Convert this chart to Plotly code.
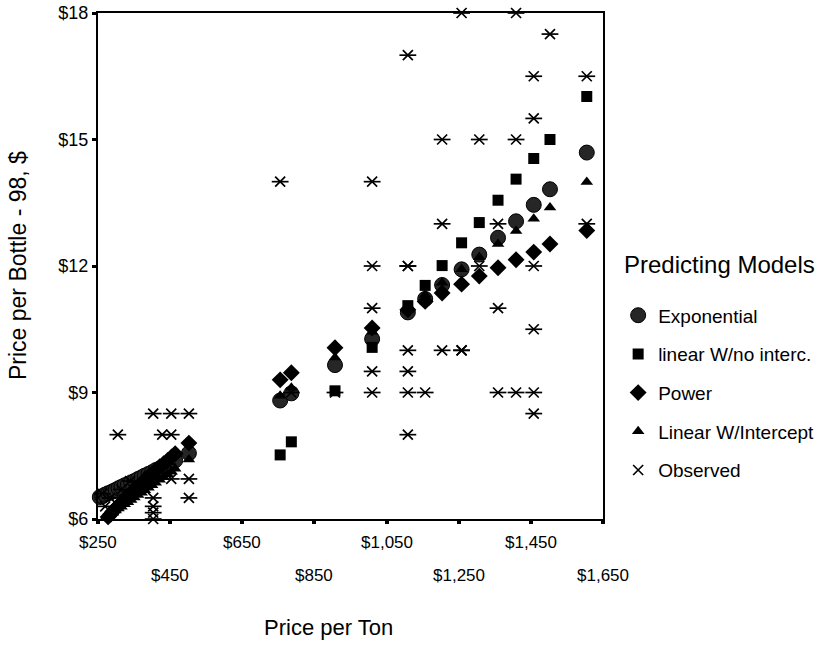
import plotly.graph_objects as go

# ---------------- data ----------------
price_ton = [255, 262, 270, 278, 285, 291, 299, 307, 315, 324, 333, 342, 351, 361,
             371, 380, 390, 400, 410, 421, 432, 443, 454, 464, 502,
             755, 786, 907, 1010, 1109, 1157, 1204, 1258, 1307, 1359, 1409, 1458, 1503, 1605]

exponential = [6.52, 6.54, 6.58, 6.61, 6.63, 6.66, 6.69, 6.73, 6.76, 6.80, 6.83, 6.87, 6.90, 6.95,
               6.99, 7.03, 7.07, 7.11, 7.16, 7.20, 7.25, 7.30, 7.35, 7.39, 7.56,
               8.81, 8.98, 9.65, 10.27, 10.90, 11.22, 11.55, 11.92, 12.27, 12.67, 13.06, 13.45, 13.82, 14.69]

linear_no_int = [2.50, 2.57, 2.65, 2.72, 2.79, 2.86, 2.94, 3.02, 3.10, 3.19, 3.27, 3.36, 3.45, 3.55,
                 3.65, 3.74, 3.84, 3.94, 4.04, 4.15, 4.25, 4.36, 4.47, 4.58, 4.95,
                 7.52, 7.83, 9.04, 10.07, 11.06, 11.54, 12.01, 12.55, 13.03, 13.56, 14.06, 14.55, 15.00, 16.02]

power = [5.83, 5.90, 5.97, 6.05, 6.11, 6.18, 6.25, 6.32, 6.39, 6.47, 6.54, 6.62, 6.69, 6.77,
         6.85, 6.93, 7.00, 7.08, 7.15, 7.24, 7.31, 7.39, 7.47, 7.55, 7.80,
         9.30, 9.47, 10.06, 10.53, 10.96, 11.16, 11.36, 11.57, 11.76, 11.96, 12.15, 12.33, 12.52, 12.84]

linear_int = [5.93, 5.98, 6.02, 6.07, 6.11, 6.15, 6.20, 6.25, 6.29, 6.35, 6.40, 6.45, 6.51, 6.57,
              6.62, 6.68, 6.74, 6.80, 6.86, 6.93, 6.99, 7.06, 7.12, 7.19, 7.41,
              8.92, 9.11, 9.83, 10.44, 11.03, 11.32, 11.60, 11.92, 12.21, 12.52, 12.83, 13.12, 13.39, 13.99]

obs_ton = [305, 403, 453, 502, 428, 453, 453, 502, 403, 502, 403, 403, 403,
           270, 284, 339, 359, 262, 315, 390, 421, 443,
           755, 786, 907,
           1010, 1010, 1010, 1010, 1010,
           1109, 1109, 1109, 1109, 1109, 1109, 1109,
           1157,
           1204, 1204, 1204,
           1258, 1258, 1258,
           1307, 1307,
           1359, 1359, 1359,
           1409, 1409, 1409,
           1458, 1458, 1458, 1458, 1458, 1458,
           1503,
           1605, 1605]
obs_bottle = [8.0, 8.5, 8.5, 8.5, 8.0, 8.0, 6.95, 6.95, 6.5, 6.5, 6.3, 6.15, 6.0,
              6.3, 6.5, 6.9, 6.8, 6.6, 6.7, 7.0, 7.2, 7.3,
              14.0, 9.0, 9.0,
              14.0, 12.0, 11.0, 9.5, 9.0,
              17.0, 12.0, 12.0, 10.0, 9.5, 9.0, 8.0,
              9.0,
              15.0, 13.0, 10.0,
              18.0, 10.0, 10.0,
              15.0, 12.0,
              13.0, 11.0, 9.0,
              18.0, 15.0, 9.0,
              16.5, 15.5, 12.0, 10.5, 9.0, 8.5,
              17.5,
              16.5, 13.0]

x_ticks = [250, 450, 650, 850, 1050, 1250, 1450, 1650]
x_tick_labels = ["$250", "$450", "$650", "$850", "$1,050", "$1,250", "$1,450", "$1,650"]
y_ticks = [6, 9, 12, 15, 18]
y_tick_labels = ["$6", "$9", "$12", "$15", "$18"]

FONT = "Liberation Sans, Arial, sans-serif"

fig = go.Figure()
fig.add_trace(go.Scatter(x=price_ton, y=exponential, mode="markers", name="Exponential",
                         legendgroup="a", cliponaxis=False,
                         marker=dict(symbol="circle", size=15, color="#262626",
                                     line=dict(color="black", width=1))))
fig.add_trace(go.Scatter(x=price_ton, y=linear_no_int, mode="markers", name="linear W/no interc.",
                         legendgroup="b", cliponaxis=True,
                         marker=dict(symbol="square", size=11, color="black")))
fig.add_trace(go.Scatter(x=price_ton, y=power, mode="markers", name="Power",
                         legendgroup="c", cliponaxis=False,
                         marker=dict(symbol="diamond", size=13, color="black")))
fig.add_trace(go.Scatter(x=price_ton, y=linear_int, mode="markers", name="Linear W/Intercept",
                         legendgroup="d", cliponaxis=False,
                         marker=dict(symbol="triangle-up", size=11, color="black")))
fig.add_trace(go.Scatter(x=obs_ton, y=obs_bottle, mode="markers", name="Observed",
                         legendgroup="e", cliponaxis=False,
                         marker=dict(symbol="x-thin-open", size=10, color="black",
                                     line=dict(color="black", width=1.7))))
fig.add_trace(go.Scatter(x=obs_ton, y=obs_bottle, mode="markers", name="Observed",
                         legendgroup="e", showlegend=False, cliponaxis=False, hoverinfo="skip",
                         marker=dict(symbol="line-ew-open", size=12, color="black",
                                     line=dict(color="black", width=1.7))))

annotations = []
for i, (v, t) in enumerate(zip(x_ticks, x_tick_labels)):
    annotations.append(dict(x=v, y=0, xref="x", yref="paper", text=t, showarrow=False,
                            yanchor="middle", xanchor="center",
                            yshift=-23 if i % 2 == 0 else -56,
                            font=dict(family=FONT, size=17, color="black")))
annotations.append(dict(x=0, y=0, xref="paper", yref="paper", text="Price per Ton",
                        showarrow=False, yanchor="middle", xanchor="center", yshift=-108, xshift=230,
                        font=dict(family=FONT, size=22, color="black")))
annotations.append(dict(x=0, y=0.5, xref="paper", yref="paper", text="Price per Bottle - 98, $",
                        showarrow=False, textangle=-90, xanchor="center", yanchor="middle",
                        xshift=-80, yshift=0, font=dict(family=FONT, size=23, color="black")))
annotations.append(dict(x=1, y=0, xref="paper", yref="paper", text="Predicting Models",
                        showarrow=False, xanchor="left", yanchor="middle", xshift=19, yshift=255,
                        font=dict(family=FONT, size=24, color="black")))

fig.update_layout(
    width=825, height=650,
    margin=dict(l=98, r=222, t=13, b=131, autoexpand=False),
    paper_bgcolor="white", plot_bgcolor="white",
    font=dict(family=FONT, color="black"),
    showlegend=True,
    legend=dict(x=1.03, xanchor="left", y=0.44, yanchor="top",
                traceorder="grouped", tracegroupgap=11,
                font=dict(family=FONT, size=19, color="black"),
                bgcolor="rgba(0,0,0,0)", itemsizing="trace"),
    annotations=annotations,
)
fig.update_xaxes(range=[250, 1650], tickvals=x_ticks, showticklabels=False,
                 ticks="outside", ticklen=3, tickwidth=4, tickcolor="black",
                 showline=True, linecolor="black", linewidth=2, mirror=True,
                 showgrid=False, zeroline=False)
fig.update_yaxes(range=[6, 18], tickvals=y_ticks, ticktext=y_tick_labels,
                 ticks="outside", ticklen=4, tickwidth=3, tickcolor="black",
                 showline=True, linecolor="black", linewidth=2, mirror=True,
                 showgrid=False, zeroline=False,
                 tickfont=dict(family=FONT, size=18, color="black"))

fig.write_html("out.html")
